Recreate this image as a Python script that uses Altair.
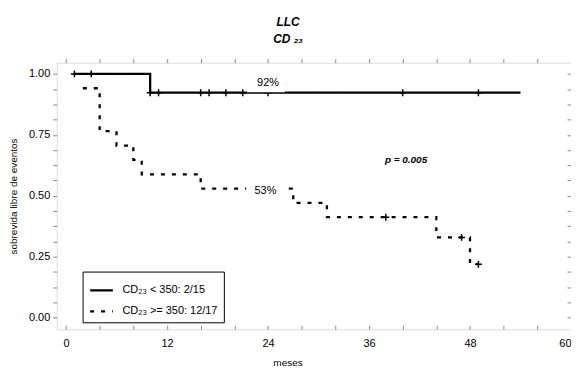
import altair as alt
import pandas as pd

FONT = "Liberation Sans"

g1 = "CD₂₃ < 350: 2/15"
g2 = "CD₂₃ >= 350: 12/17"

# Kaplan-Meier step curves
solid_t = [1, 10, 54]
solid_s = [1.0, 0.923, 0.923]
dashed_t = [2, 4, 6, 8, 9, 16, 27, 31, 44, 48, 49]
dashed_s = [0.941, 0.765, 0.706, 0.647, 0.588, 0.529, 0.471, 0.412, 0.329, 0.219, 0.219]

# censored observations
solid_cens_t = [1, 3, 10, 11, 16, 17, 19, 21, 24, 40, 49]
solid_cens_s = [1.0, 1.0, 0.923, 0.923, 0.923, 0.923, 0.923, 0.923, 0.923, 0.923, 0.923]
dashed_cens_t = [38, 47, 49]
dashed_cens_s = [0.412, 0.329, 0.219]

# annotations
ann_text = ["92%", "53%"]
ann_x = [24, 23.7]
ann_y = [0.962, 0.52]
box_x1 = [21.5, 21.4]
box_x2 = [26.0, 26.2]
box_y1 = [0.925, 0.50]
box_y2 = [0.99, 0.56]
p_text = ["p = 0.005"]
p_x = [40.4]
p_y = [0.648]

x_major = [0, 12, 24, 36, 48, 60]
x_minor = list(range(0, 61, 4))
y_ticks = [i * 0.0625 for i in range(17)]

lines = pd.DataFrame({
    "t": solid_t + dashed_t,
    "s": solid_s + dashed_s,
    "group": [g1] * len(solid_t) + [g2] * len(dashed_t),
})
cens = pd.DataFrame({
    "t": solid_cens_t + dashed_cens_t,
    "s": solid_cens_s + dashed_cens_s,
})
boxes = pd.DataFrame({"x1": box_x1, "x2": box_x2, "y1": box_y1, "y2": box_y2})
ann = pd.DataFrame({"label": ann_text, "t": ann_x, "s": ann_y})
pdf = pd.DataFrame({"label": p_text, "t": p_x, "s": p_y})

xs = alt.Scale(domain=[-1.1, 60], nice=False, zero=False)
ys = alt.Scale(domain=[-0.048, 1.046], nice=False, zero=False)

line_layer = alt.Chart(lines).mark_line(
    interpolate="step-after", color="black", strokeWidth=2.3
).encode(
    x=alt.X("t:Q", scale=xs, axis=alt.Axis(
        orient="bottom", values=x_major, tickSize=0, labelPadding=8,
        labelFontSize=11, title="meses", titleFontSize=10, titleFontWeight="normal",
        titleX=232, titleY=28, domain=False, grid=False, labelFlush=True)),
    y=alt.Y("s:Q", scale=ys, axis=alt.Axis(
        orient="left", values=y_ticks, tickSize=4, labelPadding=3,
        labelExpr="datum.value % 0.25 == 0 ? format(datum.value, '.2f') : ''",
        labelFontSize=11, title="sobrevida libre de eventos", titleFontSize=10,
        titleFontWeight="normal", titlePadding=10, domain=False, grid=False,
        labelFlush=False, labelOverlap=False)),
    strokeDash=alt.StrokeDash("group:N", scale=alt.Scale(domain=[g1, g2], range=[[1, 0], [4, 7]]),
        legend=alt.Legend(orient="none", legendX=26, legendY=210, title=None,
                          fillColor="white", strokeColor="black", padding=6,
                          symbolType="stroke", symbolSize=520, symbolStrokeWidth=2.3,
                          symbolStrokeColor="black", labelFontSize=11, labelFont=FONT,
                          rowPadding=3, labelOffset=8, cornerRadius=0)),
    detail="group:N",
)

cross = "M0,-1L0,1M-1,0L1,0"
cens_layer = alt.Chart(cens).mark_point(
    shape=cross, size=49, filled=False, stroke="black", strokeWidth=1.5, opacity=1
).encode(
    x=alt.X("t:Q", scale=xs, axis=alt.Axis(orient="top", values=x_minor, tickSize=4,
                                           labels=False, domain=False, grid=False, title=None)),
    y=alt.Y("s:Q", scale=ys, axis=alt.Axis(orient="left", offset=-517, values=y_ticks, tickSize=4,
                                           labels=False, domain=False, grid=False, title=None)),
)

box_layer = alt.Chart(boxes).mark_rect(color="white").encode(
    x=alt.X("x1:Q", scale=xs, axis=alt.Axis(orient="top", offset=-268, values=x_minor, tickSize=4,
                                            labels=False, domain=False, grid=False, title=None)),
    x2="x2:Q",
    y=alt.Y("y1:Q", scale=ys, axis=None),
    y2="y2:Q",
)

ann_layer = alt.Chart(ann).mark_text(font=FONT, fontSize=11, color="black").encode(
    x=alt.X("t:Q", scale=xs, axis=None),
    y=alt.Y("s:Q", scale=ys, axis=None),
    text="label:N",
)

p_layer = alt.Chart(pdf).mark_text(font=FONT, fontSize=10, fontWeight="bold",
                                   fontStyle="italic", color="black").encode(
    x=alt.X("t:Q", scale=xs, axis=None),
    y=alt.Y("s:Q", scale=ys, axis=None),
    text="label:N",
)

chart = alt.layer(line_layer, cens_layer, box_layer, ann_layer, p_layer).resolve_axis(
    x="independent", y="independent"
).properties(
    width=517,
    height=268,
    autosize=alt.AutoSizeParams(type="none"),
    padding={"left": 49, "top": 54, "right": 0, "bottom": 42},
    title=alt.TitleParams(
        text="LLC", subtitle="CD ₂₃", font=FONT, subtitleFont=FONT,
        fontSize=12, fontStyle="italic", fontWeight="bold",
        subtitleFontSize=12, subtitleFontStyle="italic", subtitleFontWeight="bold",
        subtitleColor="black", color="black", anchor="middle", dx=-26,
        offset=12, subtitlePadding=5,
    ),
).configure_view(
    stroke="black", strokeWidth=1
).configure_axis(
    labelFont=FONT, titleFont=FONT, labelColor="black", titleColor="black", tickColor="black"
).configure(background="white")

chart.save("out.html", embed_options={"renderer": "svg", "actions": False})
